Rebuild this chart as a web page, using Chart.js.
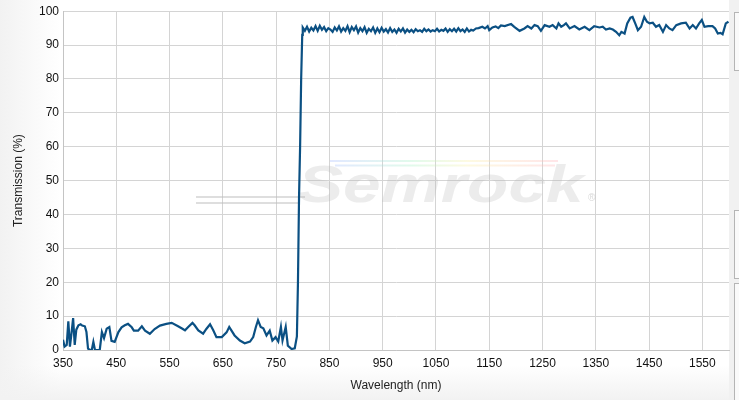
<!DOCTYPE html>
<html>
<head>
<meta charset="utf-8">
<style>
  body { margin: 0; background: #fff; }
  canvas { display: block; }
</style>
<script src="https://cdn.jsdelivr.net/npm/chart.js@4.4.1/dist/chart.umd.min.js"></script>
</head>
<body>
<canvas id="chartDisplay" width="739" height="400"></canvas>
<script>
// wavelength (nm) and transmission (%)
const wavelengths = [
  350, 353, 357, 360, 363, 366, 369, 372, 375, 379, 383, 386, 391, 394, 397, 401, 404, 407, 410, 416,
  419, 423, 427, 432, 437, 441, 447, 454, 460, 466, 472, 479, 483, 491, 498, 504, 513, 522, 532, 544,
  554, 566, 575, 579, 585, 593, 597, 604, 613, 619, 626, 632, 638, 648, 657, 662, 666, 672, 682, 691,
  701, 707, 712, 716, 721, 726, 732, 738, 743, 749, 754, 759, 762, 768, 772, 779, 785, 789, 791, 793,
  795, 797, 799,
  800, 804, 808, 812, 816, 820, 824, 828, 832, 836, 840, 844, 848, 852, 856, 860, 864, 868, 872, 876,
  880, 884, 888, 892, 896, 900, 904, 908, 912, 916, 920, 924, 928, 932, 936, 940, 944, 948, 952, 956,
  960, 964, 968, 972, 976, 980, 984, 988, 992, 996, 1000, 1004, 1008, 1012, 1016, 1020, 1024, 1028, 1032, 1036,
  1040, 1044, 1048, 1052, 1056, 1060, 1064, 1068, 1072, 1076, 1080, 1084, 1088, 1092, 1096, 1100, 1104, 1108, 1112, 1116,
  1120, 1125, 1130, 1137, 1142, 1147, 1150, 1156, 1162, 1167, 1172, 1179, 1191, 1197, 1207, 1216, 1222, 1229, 1235, 1241,
  1247, 1254, 1263, 1269, 1276, 1280, 1285, 1290, 1294, 1301, 1310, 1319, 1329, 1338, 1347, 1357, 1363, 1369, 1376, 1382,
  1388, 1394, 1398, 1404, 1409, 1415, 1419, 1424, 1429, 1435, 1441, 1446, 1451, 1457, 1463, 1469, 1476, 1482, 1488, 1494,
  1501, 1510, 1519, 1526, 1532, 1538, 1544, 1549, 1554, 1561, 1569, 1574, 1579, 1584, 1588, 1594, 1599
];
const transmission = [
  3.0, 1.0, 1.5, 8.5, 1.0, 5.0, 9.4, 1.5, 6.0, 7.3, 7.6, 7.2, 7.0, 5.3, 0.4, 0.0, 0.0, 2.4, 0.0, 0.0,
  0.0, 5.3, 3.5, 6.3, 6.8, 2.7, 2.4, 5.3, 6.7, 7.3, 7.7, 6.7, 5.7, 5.7, 7.0, 5.7, 4.8, 6.2, 7.2, 7.7,
  8.0, 7.0, 6.2, 5.8, 6.8, 8.0, 7.3, 5.8, 4.8, 6.2, 7.6, 5.8, 3.8, 3.8, 5.2, 6.8, 5.8, 4.3, 2.8, 2.0,
  2.5, 3.8, 6.8, 8.8, 6.8, 6.4, 4.3, 5.7, 2.8, 3.8, 2.5, 6.8, 2.8, 6.8, 1.3, 0.3, 0.5, 4.0, 20, 45,
  60, 80, 93,
  95.2, 94.2, 95.4, 94.0, 95.1, 94.3, 95.6, 94.2, 95.7, 94.5, 95.3, 94.1, 95.0, 94.6, 93.9, 95.2, 94.3, 95.5, 94.0, 95.0,
  94.2, 95.6, 93.8, 95.3, 94.4, 95.5, 93.7, 95.0, 94.1, 95.3, 93.6, 94.8, 94.1, 95.2, 93.6, 94.9, 93.8, 95.1, 94.0, 94.7,
  93.7, 95.0, 93.9, 94.6, 93.6, 94.8, 94.0, 94.9, 93.7, 94.6, 93.9, 94.5, 93.8, 94.7, 94.1, 94.4, 93.9, 94.8, 94.1, 94.6,
  94.0, 94.4, 94.1, 94.8, 94.0, 94.5, 94.2, 94.9, 93.9, 94.7, 94.1, 94.8, 94.0, 95.0, 94.1, 94.6, 93.9, 94.9, 94.0, 94.5,
  94.3, 94.9, 95.0, 95.4, 94.9, 95.6, 94.4, 95.2, 95.5, 95.0, 95.8, 95.6, 96.2, 95.4, 94.2, 94.9, 95.6, 94.9, 95.9, 95.6,
  94.2, 95.9, 95.4, 95.9, 94.9, 96.4, 95.4, 95.9, 96.4, 94.9, 95.6, 94.6, 95.4, 94.4, 95.6, 95.2, 95.4, 94.6, 94.9, 94.6,
  93.9, 92.9, 93.9, 93.4, 96.4, 98.1, 98.3, 96.4, 94.4, 95.4, 98.3, 96.9, 96.4, 96.6, 95.4, 95.9, 93.9, 95.9, 94.9, 94.4,
  95.9, 96.4, 96.6, 94.9, 95.9, 94.9, 96.4, 97.4, 95.4, 95.6, 95.6, 94.9, 93.4, 93.6, 93.2, 96.4, 96.9
];
const xTicks = [350, 450, 550, 650, 750, 850, 950, 1050, 1150, 1250, 1350, 1450, 1550];

Chart.defaults.font.family = 'Arial, "Liberation Sans", sans-serif';
Chart.defaults.font.size = 12;

// page background, white plot area and the cut-off side panel
const background = {
  id: 'background',
  beforeDraw(chart) {
    const ctx = chart.ctx;
    const area = chart.chartArea;
    ctx.save();
    let g = ctx.createLinearGradient(0, 0, 60, 0);
    g.addColorStop(0, '#f2f2f2');
    g.addColorStop(1, '#ffffff');
    ctx.fillStyle = g;
    ctx.fillRect(0, 0, chart.width, chart.height);
    g = ctx.createLinearGradient(0, 365, 0, 400);
    g.addColorStop(0, 'rgba(242,242,242,0)');
    g.addColorStop(1, 'rgba(242,242,242,1)');
    ctx.fillStyle = g;
    ctx.fillRect(0, 365, chart.width, 35);
    ctx.fillStyle = '#ffffff';
    ctx.fillRect(area.left, area.top, area.right - area.left, area.bottom - area.top);
    ctx.fillStyle = '#f1f1f1';
    ctx.fillRect(area.right, 0, chart.width - area.right, chart.height);
    ctx.fillStyle = '#fafafa';
    ctx.strokeStyle = '#b5b5b5';
    ctx.lineWidth = 1;
    [[12, 70], [210, 278], [283, 400]].forEach(function (b) {
      ctx.fillRect(734.5, b[0] + 0.5, 10, b[1] - b[0]);
      ctx.strokeRect(734.5, b[0] + 0.5, 10, b[1] - b[0]);
    });
    ctx.restore();
  }
};

// faint logo behind the curve
const watermark = {
  id: 'watermark',
  beforeDatasetsDraw(chart) {
    const ctx = chart.ctx;
    ctx.save();
    ctx.strokeStyle = 'rgba(190,190,190,0.5)';
    ctx.lineWidth = 2;
    ctx.beginPath();
    ctx.moveTo(196, 197); ctx.lineTo(305, 197);
    ctx.moveTo(196, 203); ctx.lineTo(300, 203);
    ctx.stroke();
    const g = ctx.createLinearGradient(330, 0, 560, 0);
    g.addColorStop(0, 'rgba(170,190,255,0.35)');
    g.addColorStop(0.35, 'rgba(170,240,200,0.35)');
    g.addColorStop(0.6, 'rgba(250,240,170,0.35)');
    g.addColorStop(1, 'rgba(255,180,190,0.35)');
    ctx.strokeStyle = g;
    ctx.beginPath();
    ctx.moveTo(330, 161); ctx.lineTo(558, 161);
    ctx.moveTo(335, 165.5); ctx.lineTo(555, 165.5);
    ctx.stroke();
    ctx.translate(298, 202);
    ctx.scale(1.3, 1);
    ctx.font = 'italic bold 52px Arial, "Liberation Sans"';
    ctx.fillStyle = 'rgba(180,180,180,0.25)';
    ctx.fillText('Semrock', 0, 0);
    ctx.setTransform(1, 0, 0, 1, 0, 0);
    ctx.font = '10px Arial, "Liberation Sans"';
    ctx.fillStyle = 'rgba(180,180,180,0.5)';
    ctx.fillText('\u00ae', 588, 201);
    ctx.restore();
  }
};

const points = wavelengths.map(function (w, i) { return { x: w, y: transmission[i] }; });

new Chart(document.getElementById('chartDisplay'), {
  type: 'line',
  data: {
    datasets: [{
      data: points,
      borderColor: '#0b5083',
      borderWidth: 2.2,
      pointRadius: 0,
      tension: 0,
      fill: false
    }]
  },
  options: {
    responsive: false,
    animation: false,
    layout: { padding: { top: 11, right: 10, left: 0, bottom: 0 } },
    plugins: { legend: { display: false }, tooltip: { enabled: false } },
    scales: {
      x: {
        type: 'linear',
        min: 350,
        max: 1600,
        afterBuildTicks: function (scale) {
          scale.ticks = xTicks.map(function (v) { return { value: v }; });
        },
        afterFit: function (scale) { scale.height = 50; },
        grid: { color: '#d4d4d4', drawTicks: false },
        border: { color: '#c4c4c4' },
        ticks: {
          color: '#111', padding: 6, maxRotation: 0, autoSkip: false,
          callback: function (v) { return String(v); }
        },
        title: { display: true, text: 'Wavelength (nm)', color: '#222', padding: { top: 8, bottom: 7 } }
      },
      y: {
        min: 0,
        max: 100,
        afterFit: function (scale) { scale.width = 63; },
        grid: { color: '#d4d4d4', drawTicks: false },
        border: { color: '#c4c4c4' },
        ticks: { stepSize: 10, color: '#111', padding: 4 },
        title: { display: true, text: 'Transmission (%)', color: '#222', padding: { top: 11, bottom: 0 } }
      }
    }
  },
  plugins: [background, watermark]
});
</script>
</body>
</html>
